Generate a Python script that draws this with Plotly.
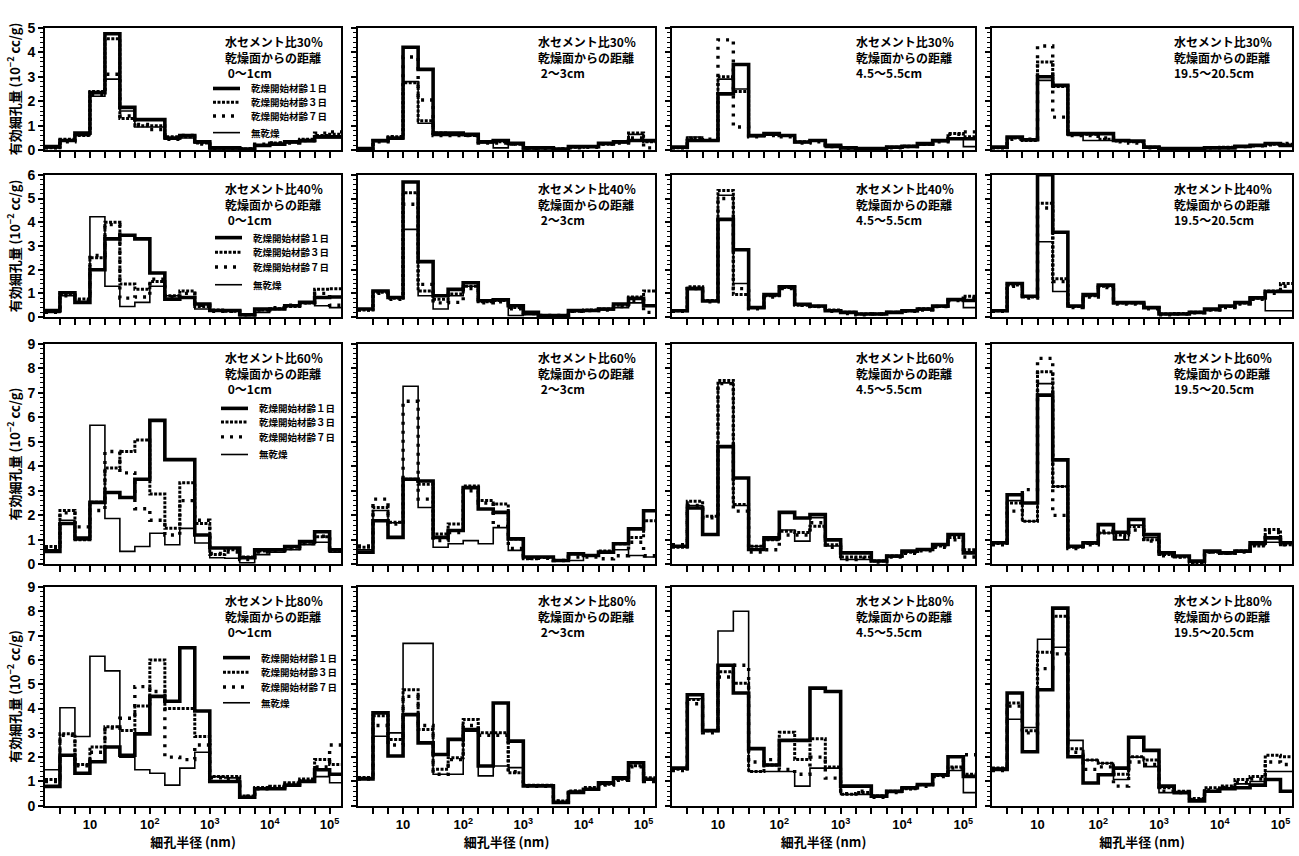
import math
import plotly.graph_objects as go

# ---------------- data ----------------
# pore radius bin edges (nm), quarter-decade bins
pore_radius_edges_nm = [1.78, 3.16, 5.62, 10, 17.8, 31.6, 56.2, 100, 178, 316, 562,
                        1000, 1780, 3160, 5620, 10000, 17800, 31600, 56200, 100000, 178000]
decade_ticks_nm = [10, 100, 1000, 10000, 100000]
decade_tick_labels = ["10", "10<sup>2</sup>", "10<sup>3</sup>", "10<sup>4</sup>", "10<sup>5</sup>"]

wc_labels = ["水セメント比30％", "水セメント比40％", "水セメント比60％", "水セメント比80％"]
distance_label = "乾燥面からの距離"
depth_labels = [" 0～1cm", " 2～3cm", "4.5～5.5cm", "19.5～20.5cm"]
series_names = ["乾燥開始材齢１日", "乾燥開始材齢３日", "乾燥開始材齢７日", "無乾燥"]
row_y_max = [5, 6, 9, 9]
y_title = "有効細孔量 (10<sup>−2</sup> cc/g)"
x_title = "細孔半径 (nm)"

# W/C 30 %
r1c1_d1 = [0.15, 0.4, 0.7, 2.35, 4.75, 1.75, 1.25, 1.25, 0.5, 0.6, 0.35, 0.1, 0.1, 0.05, 0.2, 0.25, 0.35, 0.4, 0.55, 0.55]
r1c1_d3 = [0.1, 0.45, 0.6, 2.4, 4.55, 1.3, 1.0, 1.0, 0.55, 0.55, 0.3, 0.1, 0.1, 0.05, 0.2, 0.3, 0.35, 0.45, 0.6, 0.65]
r1c1_d7 = [0.1, 0.35, 0.65, 2.25, 3.1, 1.4, 1.05, 0.85, 0.45, 0.6, 0.25, 0.05, 0.05, 0.05, 0.25, 0.3, 0.3, 0.4, 0.7, 0.75]
r1c1_nd = [0.1, 0.4, 0.6, 2.2, 2.9, 1.6, 0.95, 0.95, 0.45, 0.5, 0.3, 0.05, 0.05, 0.05, 0.2, 0.25, 0.3, 0.35, 0.5, 0.5]

r1c2_d1 = [0.07, 0.4, 0.5, 4.2, 3.3, 0.7, 0.7, 0.65, 0.35, 0.4, 0.28, 0.1, 0.1, 0.05, 0.15, 0.15, 0.28, 0.35, 0.4, 0.4]
r1c2_d3 = [0.05, 0.4, 0.55, 2.75, 1.2, 0.7, 0.65, 0.6, 0.35, 0.35, 0.25, 0.08, 0.1, 0.05, 0.12, 0.15, 0.25, 0.35, 0.7, 0.35]
r1c2_d7 = [0.05, 0.35, 0.55, 3.8, 2.05, 0.6, 0.6, 0.6, 0.3, 0.3, 0.25, 0.08, 0.08, 0.05, 0.1, 0.12, 0.25, 0.3, 0.5, 0.1]
r1c2_nd = [0.07, 0.35, 0.45, 2.8, 1.1, 0.6, 0.6, 0.6, 0.3, 0.1, 0.25, 0.08, 0.08, 0.05, 0.12, 0.15, 0.25, 0.3, 0.65, 0.35]

r1c3_d1 = [0.13, 0.4, 0.4, 2.3, 3.5, 0.6, 0.68, 0.6, 0.34, 0.4, 0.2, 0.1, 0.07, 0.07, 0.13, 0.16, 0.27, 0.4, 0.47, 0.47]
r1c3_d3 = [0.1, 0.5, 0.4, 3.0, 2.4, 0.6, 0.65, 0.6, 0.35, 0.4, 0.2, 0.1, 0.07, 0.05, 0.12, 0.16, 0.25, 0.4, 0.68, 0.55]
r1c3_d7 = [0.1, 0.45, 0.45, 4.5, 0.95, 0.55, 0.6, 0.55, 0.3, 0.35, 0.15, 0.08, 0.05, 0.05, 0.1, 0.15, 0.25, 0.35, 0.65, 0.75]
r1c3_nd = [0.12, 0.54, 0.4, 2.9, 2.5, 0.55, 0.62, 0.58, 0.32, 0.38, 0.12, 0.08, 0.05, 0.05, 0.1, 0.15, 0.22, 0.35, 0.45, 0.15]

r1c4_d1 = [0.13, 0.54, 0.43, 3.0, 2.65, 0.68, 0.68, 0.68, 0.4, 0.38, 0.13, 0.07, 0.07, 0.07, 0.1, 0.1, 0.16, 0.2, 0.27, 0.2]
r1c4_d3 = [0.1, 0.5, 0.4, 3.6, 2.6, 0.65, 0.65, 0.45, 0.38, 0.35, 0.12, 0.05, 0.07, 0.07, 0.1, 0.12, 0.15, 0.2, 0.25, 0.25]
r1c4_d7 = [0.1, 0.45, 0.45, 4.25, 1.35, 0.6, 0.6, 0.5, 0.35, 0.3, 0.1, 0.05, 0.05, 0.07, 0.1, 0.1, 0.15, 0.18, 0.22, 0.28]
r1c4_nd = [0.12, 0.5, 0.4, 2.85, 2.6, 0.6, 0.4, 0.4, 0.38, 0.35, 0.12, 0.07, 0.07, 0.07, 0.1, 0.1, 0.15, 0.2, 0.25, 0.22]

# W/C 40 %
r2c1_d1 = [0.28, 1.03, 0.62, 2.0, 3.3, 3.45, 3.3, 1.86, 0.76, 0.83, 0.55, 0.28, 0.28, 0.1, 0.34, 0.34, 0.48, 0.62, 0.83, 0.85]
r2c1_d3 = [0.25, 0.95, 0.76, 2.5, 4.0, 1.4, 1.17, 1.5, 0.9, 1.1, 0.45, 0.3, 0.25, 0.1, 0.3, 0.35, 0.45, 0.6, 1.17, 1.2]
r2c1_d7 = [0.2, 0.9, 0.7, 2.6, 3.9, 0.8, 0.85, 1.6, 0.85, 1.0, 0.5, 0.25, 0.25, 0.1, 0.3, 0.4, 0.5, 0.6, 1.0, 0.5]
r2c1_nd = [0.2, 0.9, 0.62, 4.23, 1.3, 0.45, 0.62, 1.3, 0.9, 0.83, 0.34, 0.28, 0.28, 0.07, 0.2, 0.34, 0.48, 0.62, 0.48, 0.4]

r2c2_d1 = [0.34, 1.1, 0.83, 5.7, 2.34, 0.9, 1.17, 1.45, 0.69, 0.73, 0.48, 0.2, 0.07, 0.07, 0.28, 0.28, 0.34, 0.55, 0.79, 0.48]
r2c2_d3 = [0.3, 1.05, 0.8, 5.24, 1.1, 0.75, 0.97, 1.3, 0.65, 0.7, 0.4, 0.15, 0.07, 0.07, 0.25, 0.3, 0.34, 0.5, 0.85, 1.1]
r2c2_d7 = [0.3, 1.0, 0.75, 4.76, 1.38, 0.6, 0.62, 1.2, 0.6, 0.65, 0.35, 0.15, 0.07, 0.07, 0.25, 0.28, 0.3, 0.45, 0.7, 0.2]
r2c2_nd = [0.34, 1.1, 0.83, 3.7, 0.9, 0.34, 0.9, 1.3, 0.69, 0.7, 0.07, 0.1, 0.07, 0.07, 0.28, 0.28, 0.3, 0.4, 0.6, 0.5]

r2c3_d1 = [0.27, 1.2, 0.68, 4.12, 2.84, 0.4, 0.95, 1.28, 0.54, 0.47, 0.27, 0.2, 0.13, 0.13, 0.2, 0.27, 0.34, 0.47, 0.74, 0.7]
r2c3_d3 = [0.27, 1.28, 0.7, 5.34, 0.95, 0.4, 0.9, 1.25, 0.5, 0.45, 0.3, 0.2, 0.13, 0.13, 0.2, 0.27, 0.35, 0.45, 0.74, 0.88]
r2c3_d7 = [0.25, 1.2, 0.65, 5.0, 1.2, 0.35, 0.85, 1.2, 0.5, 0.45, 0.25, 0.15, 0.1, 0.13, 0.2, 0.25, 0.3, 0.45, 0.7, 0.8]
r2c3_nd = [0.27, 1.25, 0.68, 5.14, 1.42, 0.4, 0.9, 1.28, 0.5, 0.45, 0.27, 0.2, 0.13, 0.13, 0.2, 0.25, 0.3, 0.45, 0.7, 0.4]

r2c4_d1 = [0.27, 1.42, 0.88, 6.0, 3.58, 0.47, 0.95, 1.35, 0.61, 0.61, 0.4, 0.13, 0.13, 0.2, 0.34, 0.47, 0.61, 0.81, 1.08, 1.08]
r2c4_d3 = [0.27, 1.35, 0.85, 4.8, 1.62, 0.45, 0.9, 1.3, 0.6, 0.6, 0.4, 0.13, 0.15, 0.2, 0.3, 0.45, 0.6, 0.8, 1.1, 1.42]
r2c4_d7 = [0.25, 1.3, 0.8, 4.6, 1.5, 0.4, 0.85, 1.25, 0.55, 0.55, 0.35, 0.1, 0.13, 0.18, 0.3, 0.4, 0.55, 0.75, 1.0, 1.3]
r2c4_nd = [0.27, 1.4, 0.88, 3.18, 1.08, 0.45, 0.9, 1.3, 0.6, 0.6, 0.4, 0.13, 0.13, 0.2, 0.3, 0.45, 0.6, 0.8, 0.27, 0.27]

# W/C 60 %
r3c1_d1 = [0.53, 1.67, 1.07, 2.53, 2.93, 2.73, 3.47, 5.87, 4.27, 4.27, 1.2, 0.67, 0.67, 0.27, 0.6, 0.6, 0.73, 0.93, 1.33, 0.6]
r3c1_d3 = [0.73, 2.2, 1.0, 2.53, 3.93, 4.6, 5.07, 2.87, 1.47, 3.33, 1.67, 0.4, 0.6, 0.3, 0.55, 0.6, 0.7, 0.9, 1.13, 0.55]
r3c1_d7 = [0.7, 2.1, 1.53, 2.2, 4.6, 3.73, 2.27, 1.8, 1.2, 2.6, 1.8, 0.45, 0.5, 0.2, 0.5, 0.55, 0.65, 0.85, 1.15, 0.6]
r3c1_nd = [0.6, 1.8, 1.0, 5.67, 1.87, 0.53, 0.73, 1.27, 0.8, 1.47, 0.87, 0.27, 0.25, 0.07, 0.4, 0.5, 0.6, 0.8, 0.9, 0.5]

r3c2_d1 = [0.5, 1.78, 1.1, 3.47, 3.4, 1.1, 1.38, 3.13, 2.26, 2.12, 1.04, 0.3, 0.3, 0.16, 0.43, 0.36, 0.5, 0.84, 1.45, 2.19]
r3c2_d3 = [0.7, 2.32, 1.72, 3.47, 3.27, 1.24, 1.65, 3.2, 2.6, 2.46, 1.04, 0.23, 0.28, 0.16, 0.43, 0.36, 0.55, 0.84, 1.1, 1.78]
r3c2_d7 = [0.75, 2.66, 1.65, 6.65, 2.66, 0.97, 1.3, 3.0, 2.5, 1.55, 0.65, 0.25, 0.25, 0.16, 0.3, 0.3, 0.23, 0.35, 0.9, 0.35]
r3c2_nd = [0.6, 2.2, 1.7, 7.26, 2.32, 0.7, 0.84, 0.97, 0.84, 1.5, 0.57, 0.3, 0.3, 0.16, 0.16, 0.36, 0.5, 0.6, 0.36, 0.3]

r3c3_d1 = [0.74, 2.3, 1.22, 4.8, 3.52, 0.61, 1.08, 2.12, 1.89, 2.03, 1.0, 0.47, 0.47, 0.14, 0.34, 0.54, 0.61, 0.81, 1.22, 0.47]
r3c3_d3 = [0.7, 2.57, 1.96, 7.5, 2.44, 0.74, 1.0, 1.35, 1.3, 1.56, 0.8, 0.3, 0.3, 0.14, 0.34, 0.5, 0.6, 0.75, 1.1, 0.6]
r3c3_d7 = [0.8, 2.4, 1.9, 7.37, 2.17, 0.5, 0.6, 1.2, 1.2, 1.7, 0.7, 0.2, 0.25, 0.1, 0.3, 0.45, 0.55, 0.7, 1.0, 0.3]
r3c3_nd = [0.74, 2.4, 1.22, 7.4, 2.4, 0.74, 1.0, 1.4, 0.95, 1.9, 0.75, 0.2, 0.2, 0.14, 0.3, 0.5, 0.6, 0.8, 1.2, 0.5]

r3c4_d1 = [0.88, 2.84, 2.5, 6.9, 4.26, 0.74, 0.88, 1.62, 1.31, 1.83, 1.22, 0.47, 0.34, 0.14, 0.54, 0.47, 0.54, 0.88, 1.08, 0.88]
r3c4_d3 = [0.85, 2.5, 1.76, 7.85, 3.18, 0.7, 0.85, 1.28, 1.2, 1.55, 1.0, 0.4, 0.3, 0.07, 0.5, 0.45, 0.55, 0.75, 1.42, 0.8]
r3c4_d7 = [0.8, 2.17, 3.05, 8.4, 2.0, 0.65, 0.8, 1.35, 1.1, 1.4, 0.95, 0.35, 0.3, 0.1, 0.5, 0.45, 0.5, 0.8, 1.3, 0.8]
r3c4_nd = [0.85, 2.6, 1.76, 7.37, 3.18, 0.7, 0.85, 1.28, 1.0, 1.6, 1.1, 0.45, 0.34, 0.1, 0.5, 0.47, 0.55, 0.8, 0.9, 0.85]

# W/C 80 %
r4c1_d1 = [0.8, 2.08, 1.34, 1.81, 2.42, 2.08, 2.96, 4.5, 4.3, 6.5, 3.9, 1.0, 1.0, 0.35, 0.7, 0.7, 0.85, 1.0, 1.48, 1.3]
r4c1_d3 = [1.08, 2.96, 1.7, 2.42, 3.25, 3.1, 4.1, 6.0, 4.0, 4.0, 2.85, 1.2, 1.2, 0.4, 0.75, 0.8, 0.95, 1.1, 1.9, 1.7]
r4c1_d7 = [1.0, 2.9, 1.65, 2.2, 3.2, 3.6, 4.9, 4.7, 2.0, 1.9, 2.5, 1.15, 1.1, 0.4, 0.7, 0.75, 0.9, 1.05, 1.6, 2.5]
r4c1_nd = [1.48, 4.03, 2.85, 6.15, 5.55, 2.0, 1.48, 1.34, 0.85, 1.55, 2.2, 1.2, 1.15, 0.35, 0.7, 0.7, 0.85, 1.05, 1.2, 0.95]

r4c2_d1 = [1.1, 3.82, 2.05, 3.75, 2.59, 2.11, 2.73, 3.14, 1.64, 4.23, 2.66, 0.82, 0.82, 0.14, 0.55, 0.68, 0.95, 1.15, 1.77, 1.09]
r4c2_d3 = [1.16, 3.7, 2.73, 4.77, 3.14, 1.5, 1.98, 3.55, 3.0, 3.0, 1.36, 0.85, 0.85, 0.2, 0.61, 0.75, 0.89, 1.09, 1.65, 1.15]
r4c2_d7 = [1.1, 3.3, 2.5, 4.5, 3.3, 1.3, 1.9, 3.3, 2.9, 2.9, 1.4, 0.8, 0.8, 0.2, 0.6, 0.7, 0.85, 1.05, 1.6, 1.0]
r4c2_nd = [1.16, 2.86, 3.0, 6.68, 6.68, 1.3, 1.3, 3.07, 1.23, 1.64, 1.57, 0.82, 0.82, 0.14, 0.61, 0.68, 0.89, 1.09, 1.8, 1.05]

r4c3_d1 = [1.55, 4.57, 3.09, 5.78, 4.64, 2.35, 1.68, 2.69, 2.69, 4.84, 4.7, 0.81, 0.81, 0.4, 0.6, 0.74, 0.87, 1.28, 2.02, 1.21]
r4c3_d3 = [1.5, 4.37, 3.09, 5.51, 5.04, 1.41, 1.68, 3.02, 1.9, 2.76, 1.6, 0.47, 0.55, 0.4, 0.6, 0.7, 0.87, 1.25, 1.6, 1.3]
r4c3_d7 = [1.45, 4.2, 3.0, 5.3, 5.78, 1.8, 1.9, 1.5, 1.3, 2.0, 1.14, 0.5, 0.6, 0.35, 0.55, 0.7, 0.8, 1.2, 1.55, 2.1]
r4c3_nd = [1.55, 4.4, 3.09, 7.19, 8.0, 1.41, 1.41, 1.41, 0.81, 1.55, 1.55, 0.47, 0.47, 0.4, 0.55, 0.7, 0.85, 1.25, 1.45, 0.54]

r4c4_d1 = [1.5, 4.64, 2.22, 4.77, 8.13, 2.02, 0.94, 1.28, 1.55, 2.82, 2.28, 0.81, 0.54, 0.2, 0.6, 0.7, 0.74, 0.85, 1.08, 0.6]
r4c4_d3 = [1.55, 4.23, 3.09, 6.32, 7.8, 2.35, 1.88, 1.75, 1.3, 2.02, 1.88, 0.74, 0.6, 0.3, 0.74, 0.81, 1.08, 1.21, 2.08, 2.02]
r4c4_d7 = [1.45, 4.1, 3.0, 5.64, 6.25, 2.2, 1.5, 1.6, 0.81, 1.8, 1.7, 0.6, 0.55, 0.25, 0.65, 0.75, 0.95, 1.1, 1.8, 1.7]
r4c4_nd = [1.55, 3.56, 3.22, 6.85, 6.52, 2.69, 1.88, 1.75, 1.08, 2.0, 1.61, 0.54, 0.54, 0.25, 0.6, 0.7, 0.9, 1.0, 1.41, 1.41]

panels = [
    [(r1c1_d1, r1c1_d3, r1c1_d7, r1c1_nd), (r1c2_d1, r1c2_d3, r1c2_d7, r1c2_nd),
     (r1c3_d1, r1c3_d3, r1c3_d7, r1c3_nd), (r1c4_d1, r1c4_d3, r1c4_d7, r1c4_nd)],
    [(r2c1_d1, r2c1_d3, r2c1_d7, r2c1_nd), (r2c2_d1, r2c2_d3, r2c2_d7, r2c2_nd),
     (r2c3_d1, r2c3_d3, r2c3_d7, r2c3_nd), (r2c4_d1, r2c4_d3, r2c4_d7, r2c4_nd)],
    [(r3c1_d1, r3c1_d3, r3c1_d7, r3c1_nd), (r3c2_d1, r3c2_d3, r3c2_d7, r3c2_nd),
     (r3c3_d1, r3c3_d3, r3c3_d7, r3c3_nd), (r3c4_d1, r3c4_d3, r3c4_d7, r3c4_nd)],
    [(r4c1_d1, r4c1_d3, r4c1_d7, r4c1_nd), (r4c2_d1, r4c2_d3, r4c2_d7, r4c2_nd),
     (r4c3_d1, r4c3_d3, r4c3_d7, r4c3_nd), (r4c4_d1, r4c4_d3, r4c4_d7, r4c4_nd)],
]

# ---------------- layout / style ----------------
W, H = 1299, 856
col_px = [(45, 341), (358, 655), (672, 975), (992, 1292)]
row_px = [(20, 145), (170, 315), (342, 567), (590, 813)]
legend_rows_px = [(213, [82, 96, 110, 127]), (215, [234, 249, 264, 282]),
                  (221, [408, 422, 437, 455]), (223, [662, 677, 692, 708])]
series_styles = [dict(color="black", width=3.6, dash="solid"),
                 dict(color="black", width=3.0, dash="3px,1.5px"),
                 dict(color="black", width=3.4, dash="3px,6px"),
                 dict(color="black", width=1.6, dash="solid")]
JP = "Noto Sans CJK JP"
NUM = "Liberation Sans"


def px_x(p):
    return p / W


def px_y(p):
    return 1 - p / H


fig = go.Figure()
layout = {}
annotations = []
shapes = []
x_lo = math.log10(pore_radius_edges_nm[0])
x_hi = 5.19
minor_edges = [v for v in pore_radius_edges_nm[1:-1] if v not in decade_ticks_nm]

for r in range(4):
    for c in range(4):
        idx = r * 4 + c + 1
        xa = "x" if idx == 1 else f"x{idx}"
        ya = "y" if idx == 1 else f"y{idx}"
        for s, vals in enumerate(panels[r][c]):
            fig.add_trace(go.Scatter(
                x=pore_radius_edges_nm, y=list(vals) + [vals[-1]],
                mode="lines", line_shape="hv", line=series_styles[s],
                name=series_names[s], xaxis=xa, yaxis=ya,
                showlegend=False, hoverinfo="skip"))
        x0, x1 = col_px[c]
        y0, y1 = row_px[r]
        xkey = "xaxis" if idx == 1 else f"xaxis{idx}"
        ykey = "yaxis" if idx == 1 else f"yaxis{idx}"
        xdict = dict(
            type="log", domain=[px_x(x0), px_x(x1)], range=[x_lo, x_hi], anchor=ya,
            tickmode="array", tickvals=decade_ticks_nm, ticktext=decade_tick_labels,
            showticklabels=(r == 3),
            ticks="outside", ticklen=6, tickwidth=2, tickcolor="black",
            minor=dict(tickmode="array", tickvals=minor_edges, ticks="outside",
                       ticklen=6, tickwidth=2, tickcolor="black", showgrid=False),
            showline=True, linewidth=2, linecolor="black", mirror=True,
            showgrid=False, zeroline=False,
            tickfont=dict(family=NUM, size=13, color="black", weight="bold"))
        if r == 3:
            xdict["title"] = dict(text=f"<b>{x_title}</b>",
                                  font=dict(family=JP, size=13, color="black"), standoff=4)
        ydict = dict(
            domain=[px_y(y1), px_y(y0)], range=[0, row_y_max[r]], anchor=xa,
            tickmode="linear", tick0=0, dtick=1,
            ticks="outside", ticklen=5, tickwidth=2, tickcolor="black",
            minor=dict(dtick=0.2, tick0=0, ticks="outside", ticklen=3, tickwidth=1.3,
                       tickcolor="black", showgrid=False),
            showticklabels=(c == 0),
            showline=True, linewidth=2, linecolor="black", mirror=True,
            showgrid=False, zeroline=False,
            tickfont=dict(family=NUM, size=14, color="black", weight="bold"))
        if c == 0:
            ydict["title"] = dict(text=f"<b>{y_title}</b>",
                                  font=dict(family=JP, size=13, color="black"), standoff=4)
        layout[xkey] = xdict
        layout[ykey] = ydict
        # panel caption
        annotations.append(dict(
            xref="paper", yref="paper", x=px_x(x0 + 0.6 * (x1 - x0)), y=px_y(y0 + 3),
            xanchor="left", yanchor="top", align="left", showarrow=False,
            text=f"<b>{wc_labels[r]}<br>{distance_label}<br>{depth_labels[c]}</b>",
            font=dict(family=JP, size=12, color="black")))

    # legend for the row (first column)
    lx, lys = legend_rows_px[r]
    for s in range(4):
        st = series_styles[s]
        shapes.append(dict(type="line", xref="paper", yref="paper",
                           x0=px_x(lx), x1=px_x(lx + 27), y0=px_y(lys[s]), y1=px_y(lys[s]),
                           line=dict(color="black", width=st["width"], dash=st["dash"])))
        annotations.append(dict(
            xref="paper", yref="paper", x=px_x(lx + 36), y=px_y(lys[s]),
            xanchor="left", yanchor="middle", showarrow=False,
            text=f"<b>{series_names[s]}</b>",
            font=dict(family=JP, size=9.5, color="black")))

fig.update_layout(**layout)
fig.update_layout(
    width=W, height=H, margin=dict(l=0, r=0, t=0, b=0),
    paper_bgcolor="white", plot_bgcolor="white",
    annotations=annotations, shapes=shapes, showlegend=False,
    font=dict(family=JP, color="black"))

fig.write_html("out.html", config={"displayModeBar": False},
               post_script="document.body.style.margin='0';document.body.style.overflow='hidden';")
